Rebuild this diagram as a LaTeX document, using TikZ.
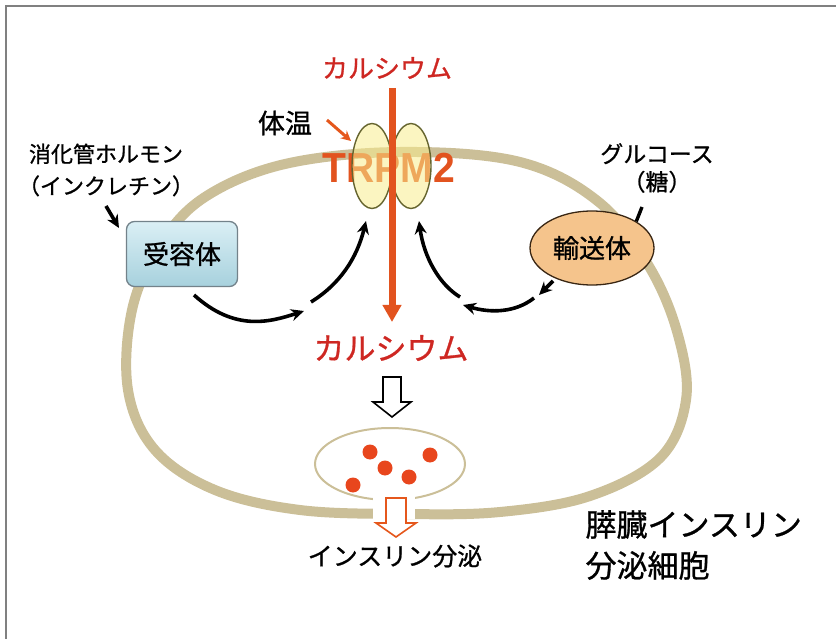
\documentclass[tikz,border=0pt]{standalone}
\usepackage{fontspec}
\newfontfamily\jpfont[FakeBold=0.9]{Noto Sans CJK JP}
\newfontfamily\latfont{Liberation Sans}
\usetikzlibrary{arrows.meta,shapes.geometric}
\definecolor{membrane}{HTML}{CBBF98}
\definecolor{calcium}{HTML}{CE2722}
\definecolor{channel}{HTML}{E2531F}
\definecolor{poreyellow}{HTML}{F8EC8E}
\definecolor{poreline}{HTML}{66652F}
\definecolor{peach}{HTML}{F5C48C}
\definecolor{boxtop}{HTML}{DAEFF5}
\definecolor{boxbottom}{HTML}{A7D1DD}
\definecolor{granule}{HTML}{E8461D}
\colorlet{frameline}{black!50}
\tikzset{
  jp/.style={font=\jpfont\fontsize{#1}{#1}\selectfont},
  signal/.style={line width=3.6pt,-{Stealth[length=13pt,width=12pt]}},
  pore/.style={ellipse,draw=poreline,line width=1.4pt,fill=poreyellow,
    fill opacity=0.55,minimum width=40pt,minimum height=85pt,inner sep=0pt},
  hollow/.style={line width=1.6pt,fill=white,line join=miter}
}

\begin{document}
\begin{tikzpicture}[x=1pt,y=-1pt]
  \useasboundingbox (0,0) rectangle (836,639);
  \draw[frameline,line width=2.2pt] (836,6) -- (6,6) -- (6,639);

  % cell membrane
  \draw[membrane,line width=10pt] plot[smooth cycle,tension=0.6] coordinates {
    (400,152) (520,162) (600,203) (650,268) (678,335) (686,400) (660,458)
    (590,496) (500,512) (405,514) (300,510) (215,490) (155,450) (128,390)
    (132,310) (160,245) (205,197) (285,164)};

  % insulin granule
  \draw[membrane,line width=2pt,fill=white] (390,464) ellipse (75 and 36);
  \fill[white] (373,494) rectangle (415,519);
  \foreach \p in {(370,452),(430,455),(385,468),(409,477),(353,485)}
    \fill[granule] \p circle (7.5);

  % TRPM2 channel
  \node[text=channel,font=\latfont\bfseries\fontsize{42}{42}\selectfont,xscale=0.93]
    (trpm) at (389,168) {TRPM2};
  \node[pore] (poreL) at (372,166) {};
  \node[pore] (poreR) at (411,166) {};

  \node[jp=26,text=calcium] (catop) at (387,68) {カルシウム};
  \node[jp=31,text=calcium] (cain) at (391,348) {カルシウム};
  \draw[channel,line width=7pt,-{Triangle[length=17pt,width=18pt]}]
    (392,88) -- (392,322);

  \node[jp=27] (temp) at (285,123) {体温};
  \coordinate (heat) at (351,141);
  \draw[channel!90!orange,line width=3pt,-{Stealth[length=10pt,width=10pt]}]
    (327,120) -- (heat);

  % receptor side
  \node[font=\jpfont\fontsize{22}{32}\selectfont,align=center] (hormone)
    at (106,170) {消化管ホルモン\\（インクレチン）};
  \node[draw=black!55!cyan!40!gray,line width=1.3pt,rounded corners=8pt,
    top color=boxtop,bottom color=boxbottom,minimum width=111pt,
    minimum height=65pt,jp=26] (receptor) at (182,254) {受容体};
  \coordinate (h1) at (106,206);
  \coordinate (h2) at (119,228);
  \draw[signal] (h1) -- (h2);
  \coordinate (r1) at (194,295);
  \coordinate (r2) at (304,311);
  \coordinate (r3) at (311,302);
  \coordinate (r4) at (366,221);
  \draw[signal] (r1) .. controls (235,332) and (270,322) .. (r2);
  \draw[signal] (r3) .. controls (340,284) and (357,258) .. (r4);

  % transporter side
  \node[font=\jpfont\fontsize{23}{28}\selectfont,align=center] (glucose)
    at (657,168) {グルコース\\（糖）};
  \node[ellipse,draw=black!70!brown,line width=1.3pt,fill=peach,
    minimum width=124pt,minimum height=74pt,inner sep=0pt,jp=26]
    (transporter) at (592,248) {輸送体};
  \coordinate (g1) at (642,207);
  \draw[line width=3.4pt] (g1) -- (transporter.north east);
  \coordinate (t1) at (553,281);
  \coordinate (t2) at (539,295);
  \coordinate (t3) at (534,298);
  \coordinate (t4) at (463,305);
  \coordinate (t5) at (460,297);
  \coordinate (t6) at (419,221);
  \draw[signal] (t1) -- (t2);
  \draw[signal] (t3) .. controls (515,313) and (490,313) .. (t4);
  \draw[signal] (t5) .. controls (440,285) and (424,258) .. (t6);

  % release
  \draw[hollow] (383,377) -- (401,377) -- (401,402) -- (411,402) -- (392,417)
    -- (373,402) -- (383,402) -- cycle;
  \draw[hollow,draw=channel!90!orange] (386,498) -- (406,498) -- (406,523)
    -- (416,523) -- (396,537) -- (376,523) -- (386,523) -- cycle;
  \node[jp=25] (insulin) at (395,556) {インスリン分泌};

  \node[font=\jpfont\fontsize{31}{41}\selectfont,align=left,anchor=west]
    (cell) at (582,545) {膵臓インスリン\\分泌細胞};
\end{tikzpicture}
\end{document}
